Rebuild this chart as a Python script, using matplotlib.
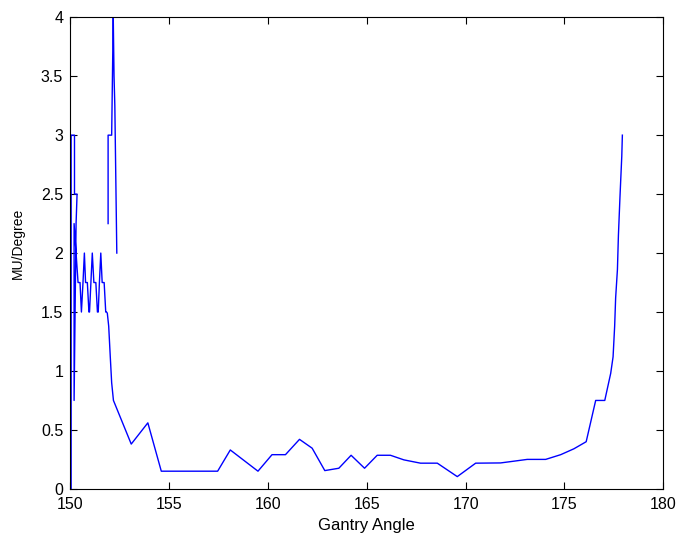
import numpy as np
import matplotlib
matplotlib.use("Agg")
from matplotlib import pyplot as plt
from matplotlib.ticker import FormatStrFormatter

# gantry angle (deg) and MU per degree
# nan splits the trace where the original line jumps
angle = [150.05, 150.05, 150.22, 150.22, 150.35, 150.3, 150.2, 150.2, 150.3, 150.4,
         150.5, 150.57, 150.65, 150.72, 150.78, 150.87, 150.95, 150.98, 151.05, 151.12,
         151.2, 151.3, 151.38, 151.42, 151.48, 151.55, 151.62, 151.72, 151.8, 151.84,
         151.88, 151.95, 152.03, 152.1, 152.19, 153.09, 153.93, 154.61, 157.46, 158.1,
         159.5, 160.21, 160.89, 161.6, 162.24, 162.88, 163.59, 164.21, 164.89, 165.53,
         166.2, 166.88, 167.72, 168.57, 169.58, 170.51, 171.77, 172.45, 173.12, 174.05,
         174.81, 175.48, 176.1, 176.58, 177.04, 177.34, 177.46, 177.54, 177.59, 177.68,
         177.73, 177.81, 177.9, 177.93,
         np.nan,
         151.92, 151.92, 152.1, 152.18, 152.2, 152.22, 152.26, 152.28, 152.32, 152.36]
mu = [0.0, 3.0, 3.0, 2.5, 2.5, 2.25, 0.75, 2.25, 2.0, 1.75,
      1.75, 1.5, 1.75, 2.0, 1.75, 1.75, 1.5, 1.5, 1.75, 2.0,
      1.75, 1.75, 1.5, 1.5, 1.75, 2.0, 1.75, 1.75, 1.5, 1.5,
      1.49, 1.38, 1.12, 0.9, 0.75, 0.38, 0.56, 0.15, 0.15, 0.33,
      0.15, 0.29, 0.29, 0.42, 0.345, 0.155, 0.175, 0.285, 0.175, 0.285,
      0.285, 0.246, 0.218, 0.218, 0.104, 0.218, 0.22, 0.235, 0.25, 0.25,
      0.29, 0.34, 0.40, 0.75, 0.75, 0.98, 1.12, 1.38, 1.62, 1.86,
      2.15, 2.48, 2.82, 3.0,
      np.nan,
      2.25, 3.0, 3.0, 4.0, 3.75, 3.5, 3.25, 3.0, 2.5, 2.0]

plt.rcParams['font.family'] = ['Liberation Sans', 'DejaVu Sans']
plt.rcParams['font.size'] = 11.5

fig = plt.figure(figsize=(6.81, 5.39), dpi=100)
ax = fig.add_axes([0.103, 0.093, 0.871, 0.875])
ax.plot(angle, mu, color='#0000ff', linewidth=1.0)

ax.set_xlim(150, 180)
ax.set_ylim(0, 4)
ax.set_xticks(np.arange(150, 181, 5))
ax.set_yticks(np.arange(0, 4.01, 0.5))
ax.yaxis.set_major_formatter(FormatStrFormatter('%g'))
ax.tick_params(direction='in', top=True, right=True, length=5, width=0.8)
ax.tick_params(axis='x', pad=6)
ax.tick_params(axis='y', pad=5)
for s in ax.spines.values():
    s.set_linewidth(0.8)

ax.set_xlabel("Gantry Angle", fontsize=12, labelpad=4)
ax.set_ylabel("MU/Degree", fontsize=10)
ax.yaxis.set_label_coords(-0.076, 0.52)

fig.savefig("out.png", dpi=100)
